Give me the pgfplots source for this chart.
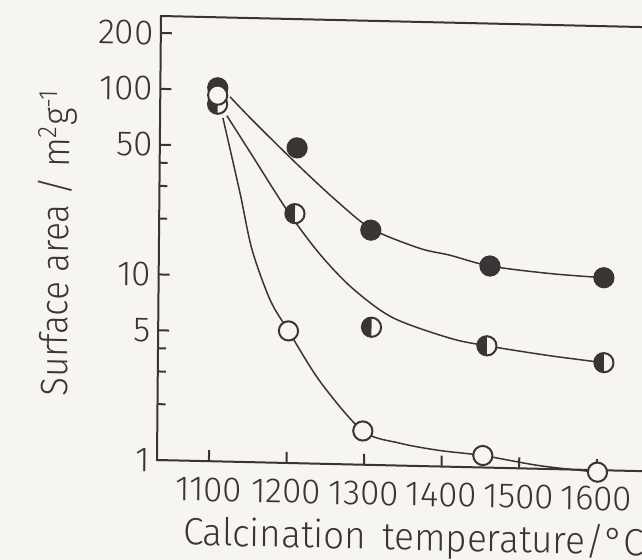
\documentclass[border=0pt]{standalone}
\usepackage{fontspec}
\setmainfont{Fira Sans}[UprightFont={* Light}, Numbers={Proportional,Lining}]
\newfontfamily\xlabfont{Fira Sans}[UprightFont={* Light}, FakeStretch=0.97]
\newfontfamily\ylabfont{Fira Sans}[UprightFont={* Light}, FakeStretch=0.91]
\usepackage{pgfplots}
\pgfplotsset{compat=1.18}

\definecolor{ink}{RGB}{58,52,52}
\definecolor{paper}{RGB}{247,245,242}

% circle with its left half filled
\pgfdeclareplotmark{halfleft}{%
  \pgfpathcircle{\pgfpointorigin}{\pgfplotmarksize}%
  \pgfsetfillcolor{paper}\pgfusepathqfill
  \pgfpathmoveto{\pgfqpoint{0pt}{\pgfplotmarksize}}%
  \pgfpatharc{90}{270}{\pgfplotmarksize}%
  \pgfpathclose
  \pgfsetfillcolor{ink}\pgfusepathqfill
  \pgfpathcircle{\pgfpointorigin}{\pgfplotmarksize}%
  \pgfusepathqstroke
}

\begin{document}
\begin{tikzpicture}
\path[use as bounding box] (-78.5pt,-50pt) rectangle (242.5pt,230pt);
\fill[paper] (-78.5pt,-50pt) rectangle (242.5pt,230pt);
\begin{scope}[transform canvas={cm={1,-0.023,0.009,1,(0,0)}}]
\begin{axis}[
  at={(0,0)}, anchor=south west,
  scale only axis, width=247pt, height=222pt,
  xmin=1033, xmax=1670,
  ymode=log, ymin=1, ymax=247,
  axis line style={ink, line width=1pt},
  every tick/.style={ink, line width=1pt},
  tick align=inside,
  major tick length=5.5pt, minor tick length=4pt,
  xtick={1100,1200,1300,1400,1500,1600},
  xticklabels={1100,1200,1300,1400,1500,1600},
  ytick={1,5,10,50,100,200},
  yticklabels={1,5,10,50,100,200},
  minor ytick={2,3,4,20,30,40},
  xtick pos=bottom, ytick pos=left,
  ticklabel style={font=\fontsize{17.5}{20}\selectfont, text=ink},
  xticklabel style={inner sep=0pt, yshift=-8pt},
  yticklabel style={inner sep=0pt, xshift=-3.5pt},
  xlabel={Calcination\hskip 8pt temperature/°C},
  ylabel={Surface area / m\textsuperscript{2}g\textsuperscript{-1}},
  xlabel style={font=\xlabfont\fontsize{19}{22}\selectfont, text=ink,
    at={(axis description cs:0.04,-0.19)}, anchor=base west},
  ylabel style={font=\ylabfont\fontsize{19}{22}\selectfont, text=ink,
    at={(axis description cs:-0.206,0.484)}, anchor=center},
  clip=false,
]
% fitted curves
\addplot[ink, line width=0.75pt, smooth] coordinates {
  (1123,92.4)(1153,69)(1210,40.9)(1262,26.1)(1307,18.7)(1369,14.9)(1408,13.8)(1460,12.2)(1538,11.3)(1607,10.9)
};
\addplot[ink, line width=0.75pt, smooth] coordinates {
  (1119,73.1)(1149,47.1)(1199,22.6)(1241,13.4)(1283,8.9)(1335,6.26)(1409,4.93)(1457,4.53)(1538,4.08)(1608,3.8)
};
\addplot[ink, line width=0.75pt, smooth] coordinates {
  (1114,71)(1137,28)(1153,14)(1177,7.52)(1201,5.15)(1243,2.75)(1298,1.52)(1346,1.32)(1397,1.22)(1453,1.16)(1526,1.04)(1601,0.975)
};
% filled
\addplot[only marks, mark=*, mark size=4.8pt, mark options={draw=ink, fill=ink, line width=1pt}] coordinates {
  (1107,103)(1210,50)(1306,18.4)(1460,12.2)(1607,10.9)
};
% half filled
\addplot[only marks, mark=halfleft, mark size=4.8pt, mark options={draw=ink, line width=1pt}] coordinates {
  (1107,84)(1208,22.1)(1308,5.52)(1457,4.53)(1608,3.8)
};
% open
\addplot[only marks, mark=*, mark size=4.8pt, mark options={draw=ink, fill=paper, line width=1pt}] coordinates {
  (1107,94)(1201,5.15)(1298,1.52)(1453,1.16)(1601,0.975)
};
\end{axis}
\end{scope}
\end{tikzpicture}
\end{document}
